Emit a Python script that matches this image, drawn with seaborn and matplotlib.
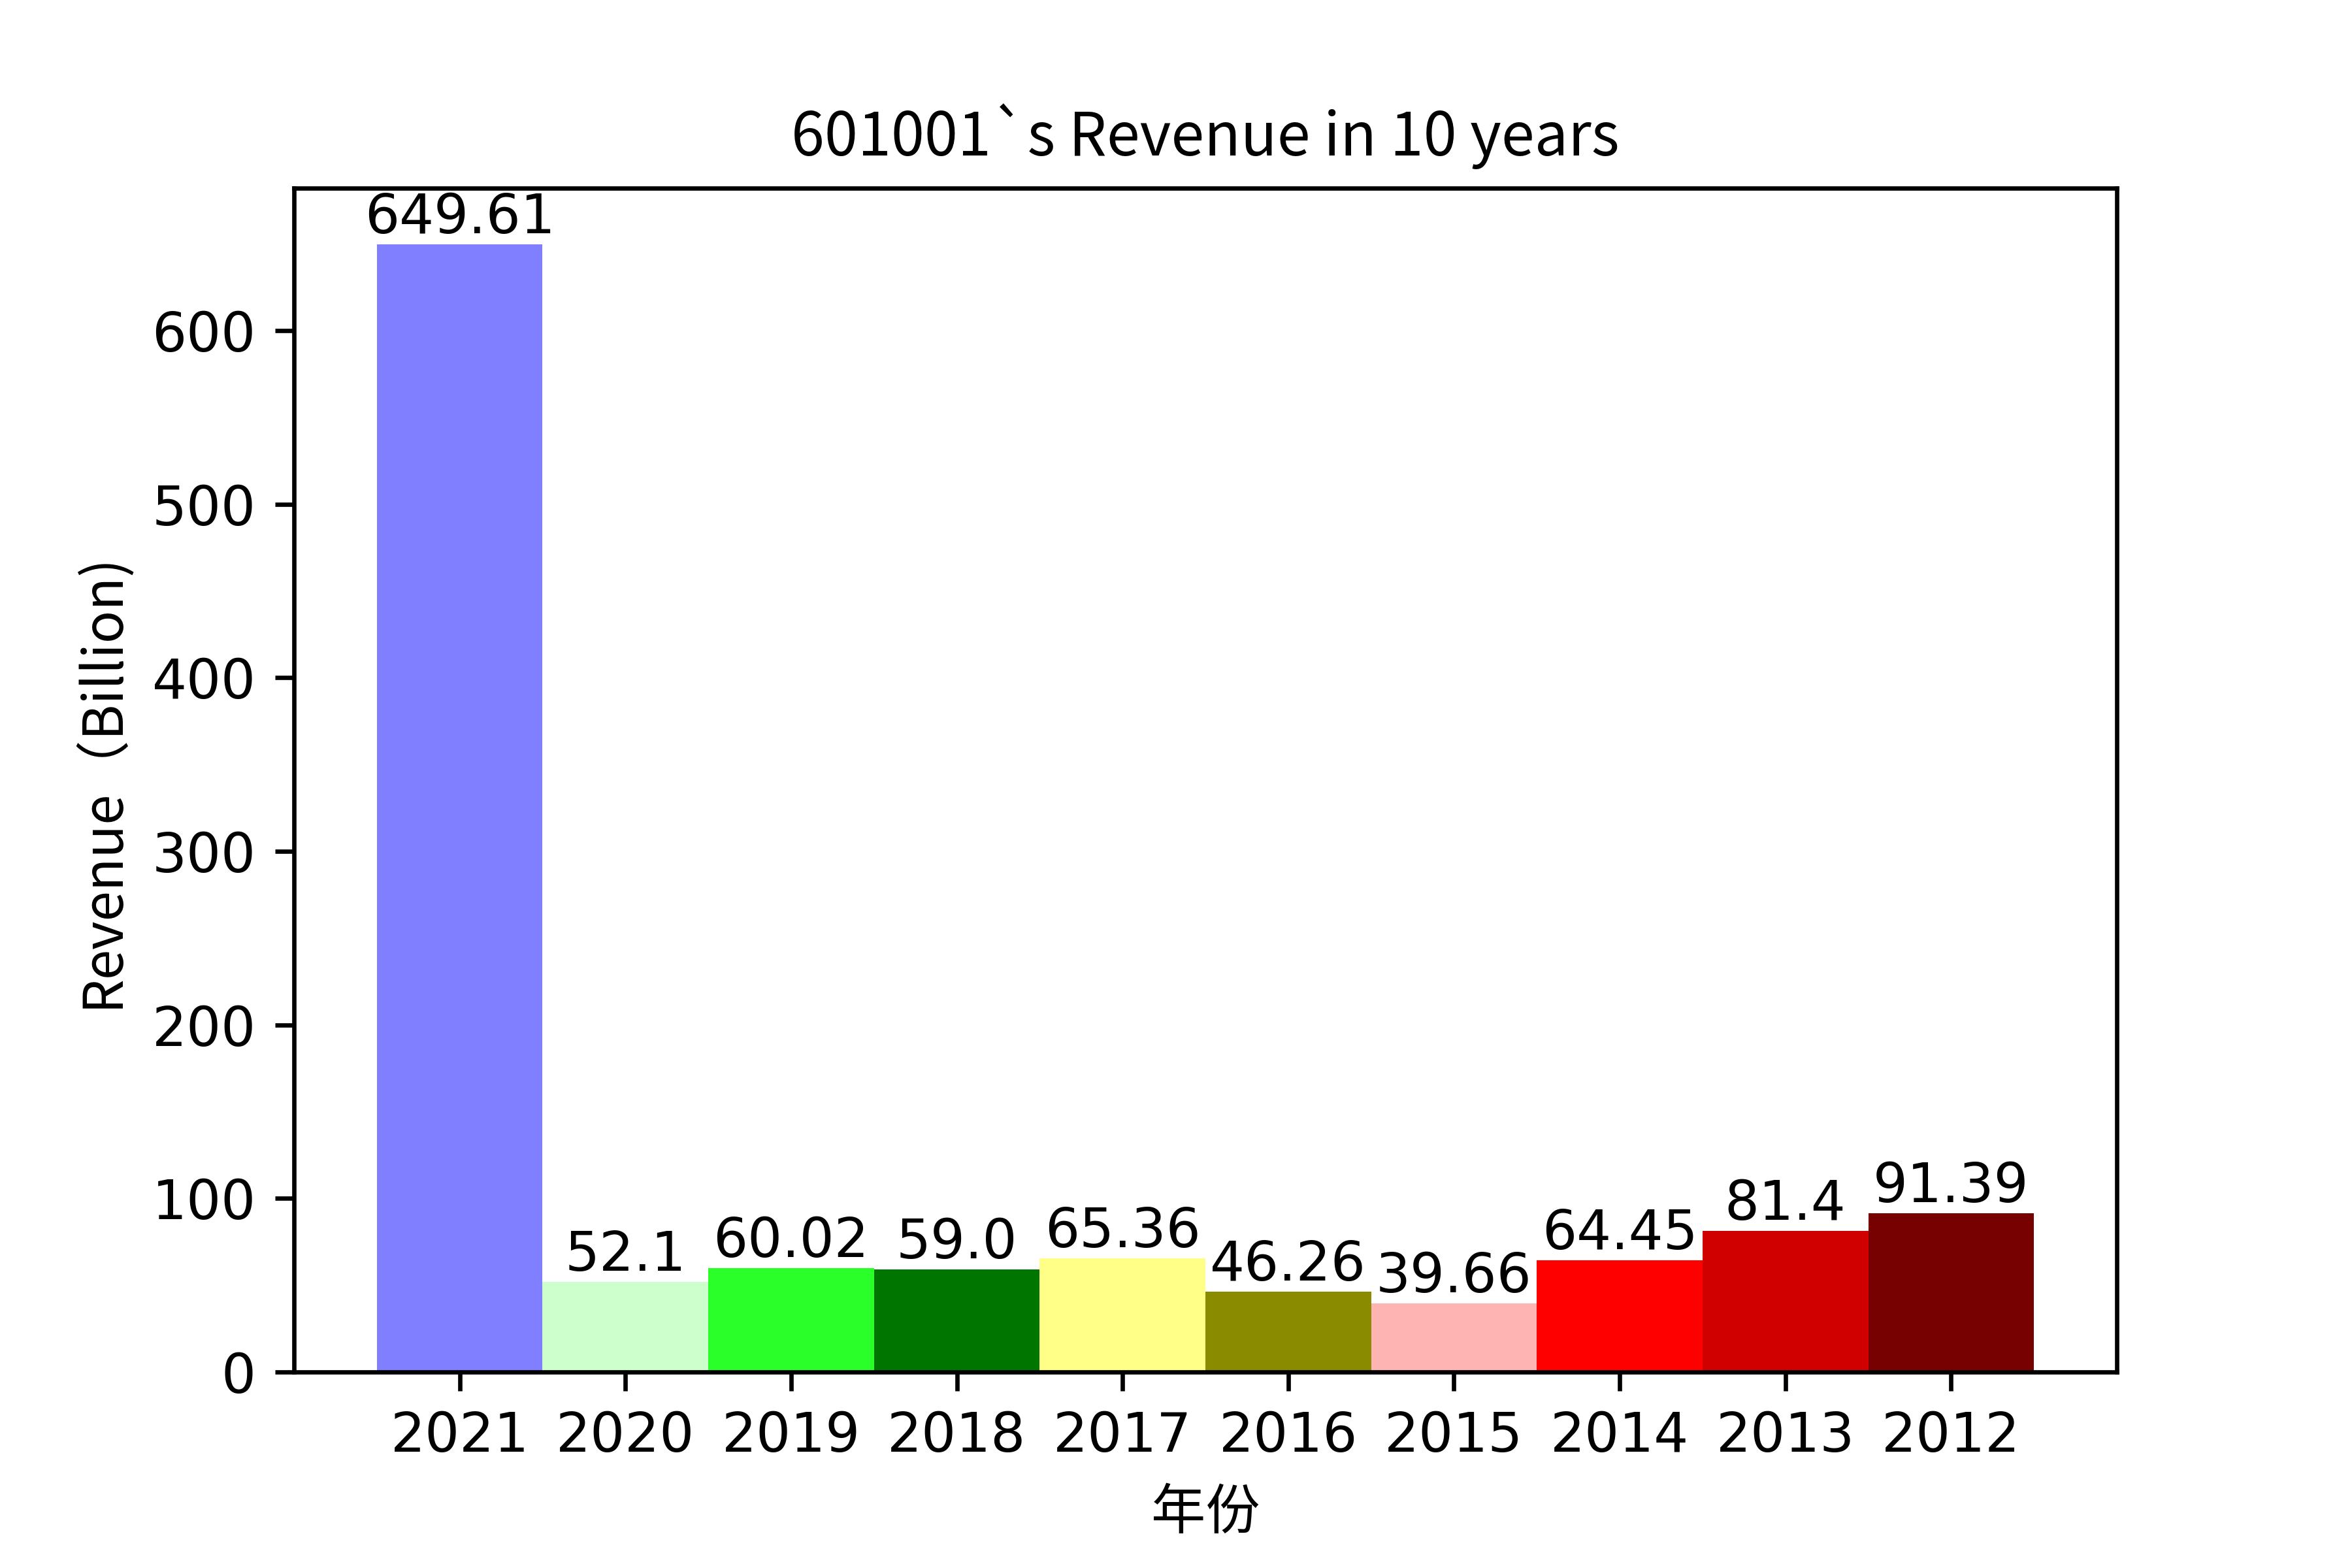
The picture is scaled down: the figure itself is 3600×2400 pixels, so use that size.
import matplotlib
matplotlib.use('Agg')
import matplotlib.pyplot as plt
import seaborn as sns
import pandas as pd

# ======= 数据 =======
years = ['2021', '2020', '2019', '2018', '2017', '2016', '2015', '2014', '2013', '2012']
revenue = [649.61, 52.1, 60.02, 59.0, 65.36, 46.26, 39.66, 64.45, 81.4, 91.39]
bar_colors = ['#7f7fff', '#ccffcc', '#2aff2a', '#007600', '#ffff88',
              '#8b8b00', '#ffb4b4', '#ff0000', '#d00000', '#770000']

title_text = '601001`s Revenue in 10 years'
x_label = '年份'
y_label = 'Revenue（Billion)'

df = pd.DataFrame({'year': years, 'revenue': revenue})

cjk = ['Noto Sans CJK SC', 'DejaVu Sans']

fig, ax = plt.subplots(figsize=(6, 4), dpi=600)
fig.subplots_adjust(bottom=0.125, top=0.88)
sns.barplot(data=df, x='year', y='revenue', hue='year', order=years,
            palette=bar_colors, width=1.0, saturation=1, legend=False, ax=ax)

# 柱顶数值
for i, v in enumerate(revenue):
    ax.text(i, v, str(v), ha='center', va='bottom', fontsize=10)

ax.set_xlim(-1, len(years))
ax.set_ylim(0, max(revenue) * 1.05)
ax.set_title(title_text, fontsize=11, family=cjk)
ax.set_xlabel(x_label, fontsize=10, family=cjk)
ax.set_ylabel(y_label, fontsize=10, family=cjk)

plt.savefig('out.png', dpi=600)
